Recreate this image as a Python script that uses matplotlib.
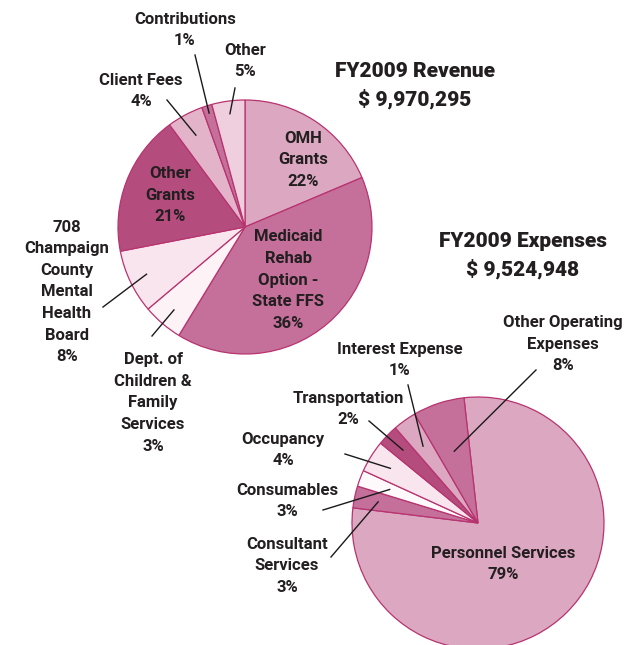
import numpy as np
import matplotlib
matplotlib.use("Agg")
import matplotlib.pyplot as plt

plt.rcParams['font.family'] = ['Roboto', 'DejaVu Sans']

rev_names = ["OMH\nGrants", "Medicaid\nRehab\nOption -\nState FFS", "Dept. of\nChildren &\nFamily\nServices",
             "708\nChampaign\nCounty\nMental\nHealth\nBoard", "Other\nGrants", "Client Fees", "Contributions", "Other"]
rev_pct = ["22%", "36%", "3%", "8%", "21%", "4%", "1%", "5%"]
rev_share = [18.6, 40.0, 5.1, 8.1, 17.9, 4.6, 1.3, 4.2]
rev_colors = ["#dca7c0", "#c4709a", "#fdf3f7", "#f9e5ee", "#b44c7e", "#e3b4c9", "#c4709a", "#efcfdd"]

# expense slices, clockwise from Personnel Services
exp_names = ["Personnel Services", "Consultant\nServices", "Consumables", "Occupancy",
             "Transportation", "Interest Expense", "Other Operating\nExpenses"]
exp_pct = ["79%", "3%", "3%", "4%", "2%", "1%", "8%"]
exp_share = [78.7, 2.8, 2.1, 4.1, 2.7, 3.0, 6.6]
exp_colors = ["#dca7c0", "#c4709a", "#fef9fb", "#f9e5ee", "#b44c7e", "#dca7c0", "#c4709a"]

W, H = 637, 645
EDGE = "#b8336f"
TXT = "#231f20"

fig = plt.figure(figsize=(W / 100, H / 100), dpi=100)
ax = fig.add_axes([0, 0, 1, 1])


def P(x, y):
    # image pixel (y down) -> axes data (y up)
    return x, H - y


rev_c, rev_r = P(245, 227), 127
exp_c, exp_r = P(478, 523), 126

rev_w, _ = ax.pie(rev_share, colors=rev_colors, startangle=90, counterclock=False,
                  center=rev_c, radius=rev_r, frame=True,
                  wedgeprops=dict(edgecolor=EDGE, linewidth=0.9))
exp_w, _ = ax.pie(exp_share, colors=exp_colors, startangle=96.4, counterclock=False,
                  center=exp_c, radius=exp_r, frame=True,
                  wedgeprops=dict(edgecolor=EDGE, linewidth=0.9))
ax.set_xlim(0, W)
ax.set_ylim(0, H)
ax.set_aspect("equal")
ax.axis("off")

fs = 12
ls = 1.55


def inside(name, pct, xy):
    ax.text(*P(*xy), name + "\n" + pct, ha="center", va="center", fontsize=fs,
            fontweight="bold", color=TXT, linespacing=ls)


def outside(wedge, center, radius, frac, name, pct, xy, start):
    mid = np.deg2rad((wedge.theta1 + wedge.theta2) / 2)
    end = (center[0] + frac * radius * np.cos(mid), center[1] + frac * radius * np.sin(mid))
    ax.text(*P(*xy), name + "\n" + pct, ha="center", va="center", fontsize=fs,
            fontweight="bold", color=TXT, linespacing=ls)
    ax.plot([P(*start)[0], end[0]], [P(*start)[1], end[1]], color="#1a1a1a", lw=1.0)


# revenue labels
inside(rev_names[0], rev_pct[0], (303, 160))
inside(rev_names[1], rev_pct[1], (288, 280))
inside(rev_names[4], rev_pct[4], (170, 195))
outside(rev_w[2], rev_c, rev_r, 0.86, rev_names[2], rev_pct[2], (153, 403), (152, 336))
outside(rev_w[3], rev_c, rev_r, 0.86, rev_names[3], rev_pct[3], (67, 292), (103, 307))
outside(rev_w[5], rev_c, rev_r, 0.82, rev_names[5], rev_pct[5], (141, 91), (167, 100))
outside(rev_w[6], rev_c, rev_r, 0.94, rev_names[6], rev_pct[6], (185, 30), (195, 55))
outside(rev_w[7], rev_c, rev_r, 0.90, rev_names[7], rev_pct[7], (245, 61), (235, 88))

# expense labels
inside(exp_names[0], exp_pct[0], (503, 564))
outside(exp_w[1], exp_c, exp_r, 0.81, exp_names[1], exp_pct[1], (287, 566), (331, 557))
outside(exp_w[2], exp_c, exp_r, 0.75, exp_names[2], exp_pct[2], (287, 501), (323, 510))
outside(exp_w[3], exp_c, exp_r, 0.82, exp_names[3], exp_pct[3], (283, 450), (345, 454))
outside(exp_w[4], exp_c, exp_r, 0.83, exp_names[4], exp_pct[4], (348, 409), (369, 421))
outside(exp_w[5], exp_c, exp_r, 0.75, exp_names[5], exp_pct[5], (400, 360), (408, 385))
outside(exp_w[6], exp_c, exp_r, 0.60, exp_names[6], exp_pct[6], (563, 344), (536, 370))

# titles
ax.text(*P(415, 86), "FY2009 Revenue\n$ 9,970,295", ha="center", va="center", fontsize=15,
        fontweight=900, color=TXT, linespacing=1.5)
ax.text(*P(523, 256), "FY2009 Expenses\n$ 9,524,948", ha="center", va="center", fontsize=15,
        fontweight=900, color=TXT, linespacing=1.5)

plt.savefig("out.png", dpi=100)
